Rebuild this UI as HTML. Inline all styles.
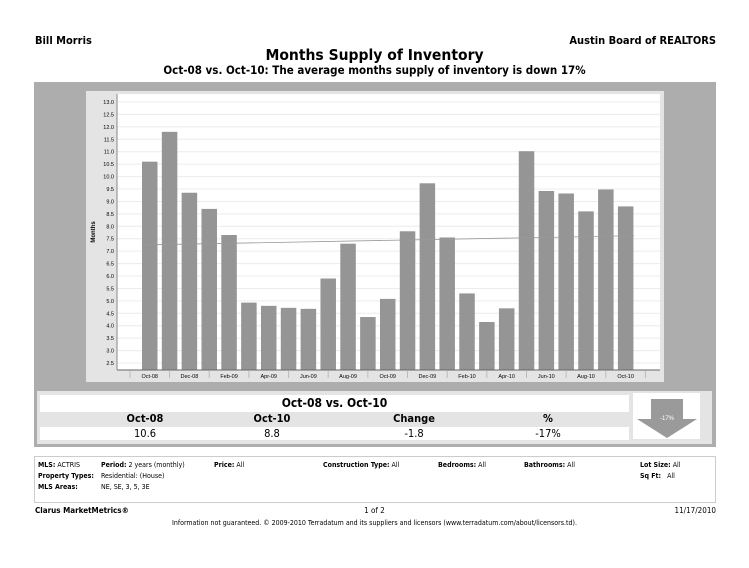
<!DOCTYPE html>
<html><head><style>
body{margin:0;background:#fff;width:749px;height:568px;position:relative;font-family:"DejaVu Sans Condensed","Liberation Sans",sans-serif;overflow:hidden}
.a{position:absolute;white-space:nowrap}
</style></head><body>
<div class="a" style="left:35px;top:34px;font-size:11px;font-weight:bold">Bill Morris</div>
<div class="a" style="right:33px;top:34px;font-size:11px;font-weight:bold">Austin Board of REALTORS</div>
<div class="a" style="left:0;width:749px;text-align:center;top:46px;font-size:15.5px;font-weight:bold">Months Supply of Inventory</div>
<div class="a" style="left:0;width:749px;text-align:center;top:63px;font-size:11.5px;font-weight:bold">Oct-08 vs. Oct-10:  The average months supply of inventory is down 17%</div>
<svg class="a" style="left:0;top:0" width="749" height="568">
<rect x="34" y="82" width="682" height="365" fill="#adadad"/>
<rect x="86" y="91" width="578" height="291" fill="#e4e4e4"/>
<rect x="117" y="94" width="543" height="276" fill="#fff"/>
<g id="g"></g>
<rect x="37" y="391" width="675" height="53" fill="#e4e4e4"/>
<rect x="40" y="395" width="589" height="17" fill="#fff"/>
<rect x="40" y="427" width="589" height="13" fill="#fff"/>
<rect x="633" y="393" width="67" height="46" fill="#fff"/>
<polygon points="651,399 683,399 683,419 697,419 667,438 637,419 651,419" fill="#9a9a9a"/>
<text x="667" y="420" font-size="6" fill="#fff" text-anchor="middle" font-family="Liberation Sans">-17%</text>
<rect x="34.5" y="456.5" width="681" height="46" fill="#fff" stroke="#ccc"/>
</svg>
<div class="a" style="left:40px;width:589px;text-align:center;top:396px;font-size:12px;font-weight:bold">Oct-08 vs. Oct-10</div>
<div class="a" style="left:40px;top:412px;width:589px;font-size:11px;font-weight:bold">
<span class="a" style="left:45px;width:120px;text-align:center">Oct-08</span><span class="a" style="left:172px;width:120px;text-align:center">Oct-10</span><span class="a" style="left:314px;width:120px;text-align:center">Change</span><span class="a" style="left:448px;width:120px;text-align:center">%</span></div>
<div class="a" style="left:40px;top:427px;width:589px;font-size:11px">
<span class="a" style="left:45px;width:120px;text-align:center">10.6</span><span class="a" style="left:172px;width:120px;text-align:center">8.8</span><span class="a" style="left:314px;width:120px;text-align:center">-1.8</span><span class="a" style="left:448px;width:120px;text-align:center">-17%</span></div>
<div class="a" style="left:0;top:460px;font-size:7px;line-height:11px">
<span class="a" style="left:38px"><b>MLS:</b> ACTRIS</span>
<span class="a" style="left:101px"><b>Period:</b> 2 years (monthly)</span>
<span class="a" style="left:214px"><b>Price:</b> All</span>
<span class="a" style="left:323px"><b>Construction Type:</b> All</span>
<span class="a" style="left:438px"><b>Bedrooms:</b> All</span>
<span class="a" style="left:524px"><b>Bathrooms:</b> All</span>
<span class="a" style="left:640px"><b>Lot Size:</b> All</span>
<span class="a" style="left:38px;top:11px"><b>Property Types:</b></span><span class="a" style="left:101px;top:11px">Residential: (House)</span>
<span class="a" style="left:640px;top:11px"><b>Sq Ft:</b> &nbsp; All</span>
<span class="a" style="left:38px;top:22px"><b>MLS Areas:</b></span><span class="a" style="left:101px;top:22px">NE, SE, 3, 5, 3E</span>
</div>
<div class="a" style="left:35px;top:506px;font-size:8px;font-weight:bold">Clarus MarketMetrics®</div>
<div class="a" style="left:0;width:749px;text-align:center;top:506px;font-size:8px">1 of 2</div>
<div class="a" style="right:33px;top:506px;font-size:8px">11/17/2010</div>
<div class="a" style="left:0;width:749px;text-align:center;top:519px;font-size:7px">Information not guaranteed.  © 2009-2010 Terradatum and its suppliers and licensors (www.terradatum.com/about/licensors.td).</div>
<script>
var v=[10.6,11.8,9.35,8.7,7.65,4.93,4.8,4.72,4.68,5.9,7.3,4.35,5.08,7.8,9.73,7.55,5.3,4.15,4.7,11.02,9.42,9.32,8.6,9.48,8.8];
var lab=["Oct-08","Dec-08","Feb-09","Apr-09","Jun-09","Aug-09","Oct-09","Dec-09","Feb-10","Apr-10","Jun-10","Aug-10","Oct-10"];
function y(t){return 102+(13-t)*24.86;}
var s="";
for(var t=2.5;t<=13.01;t+=0.5){var yy=y(t);s+='<line x1="117" x2="660" y1="'+yy+'" y2="'+yy+'" stroke="#ececec"/><text x="114" y="'+(yy+2)+'" font-size="5.5" text-anchor="end" font-family="Liberation Sans">'+t.toFixed(1)+'</text>';}
for(var i=0;i<25;i++){var x=142+i*19.83;s+='<rect x="'+x+'" y="'+y(v[i])+'" width="15.5" height="'+(370-y(v[i]))+'" fill="#959595"/>';}
s+='<line x1="142" y1="'+y(7.25)+'" x2="634" y2="'+y(7.62)+'" stroke="#999" stroke-width="0.8"/>';
s+='<line x1="117" x2="660" y1="370" y2="370" stroke="#666"/><line x1="117" x2="117" y1="94" y2="370" stroke="#888"/>';
for(var j=0;j<13;j++){var cx=149.75+j*39.66;s+='<text x="'+cx+'" y="378" font-size="5.5" text-anchor="middle" font-family="Liberation Sans">'+lab[j]+'</text><line x1="'+(cx+19.8)+'" x2="'+(cx+19.8)+'" y1="371" y2="378" stroke="#bbb"/>';}
s+='<line x1="130" x2="130" y1="371" y2="378" stroke="#bbb"/>';
s+='<text transform="translate(95,232) rotate(-90)" font-size="6" font-weight="bold" text-anchor="middle" font-family="Liberation Sans">Months</text>';
document.getElementById("g").innerHTML=s;
</script>
</body></html>
